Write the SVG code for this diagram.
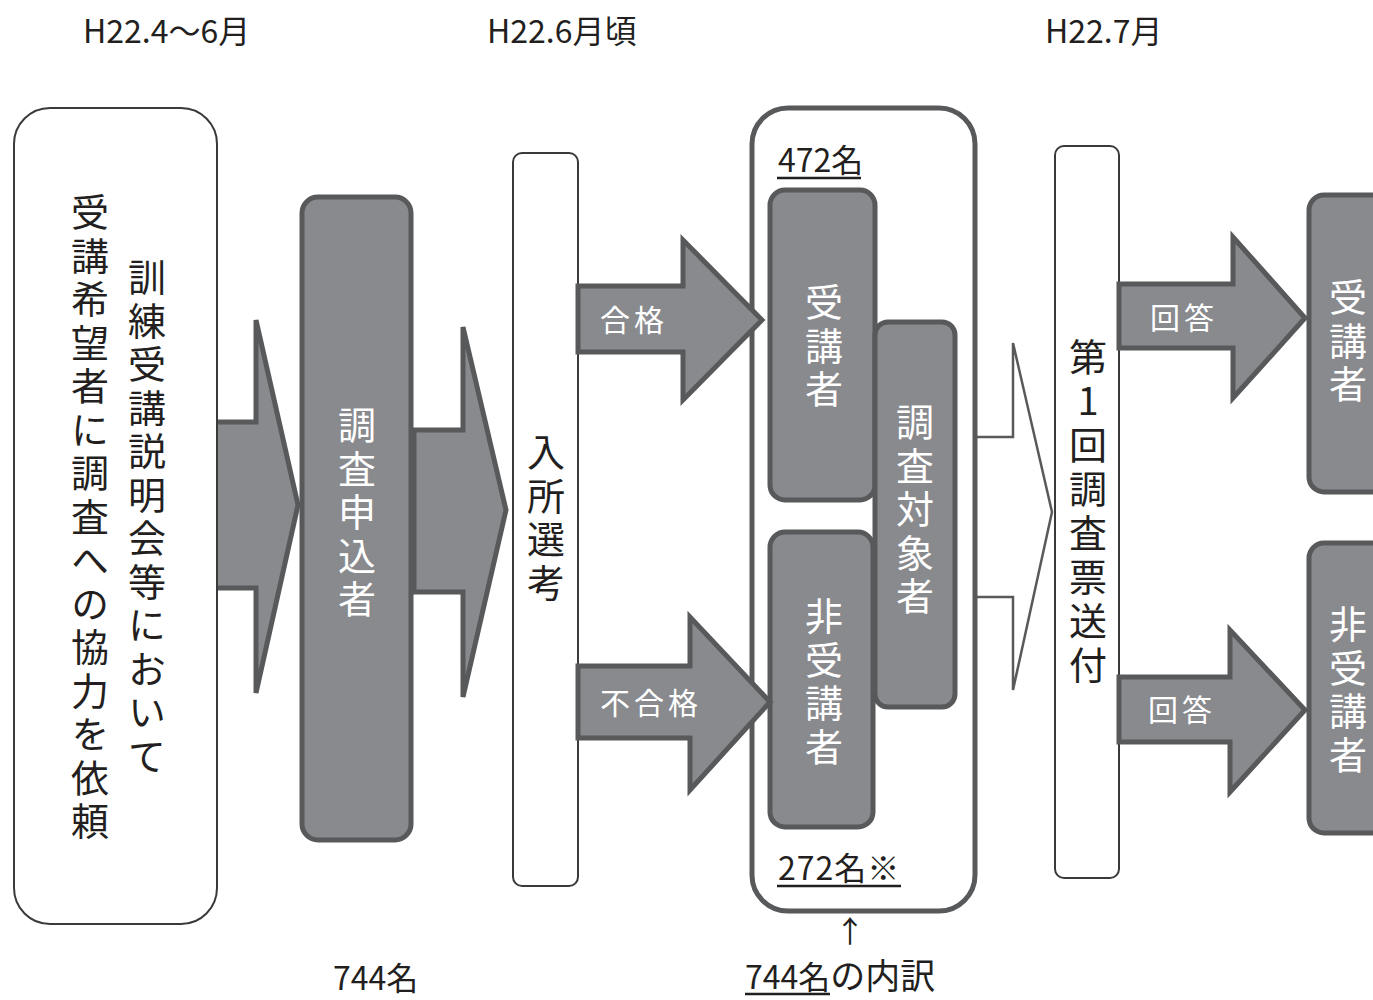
<svg xmlns="http://www.w3.org/2000/svg" width="1373" height="1000" viewBox="0 0 1373 1000">
<style>
text{font-family:"Noto Sans CJK JP","Noto Sans",sans-serif;}
.lbl{font-size:32px;fill:#231f20;}
.v{writing-mode:vertical-rl;text-orientation:upright;font-size:38px;letter-spacing:5.5px;}
.vb{fill:#231f20;}
.vw{fill:#ffffff;}
.gbox{fill:#898a8e;stroke:#58595b;stroke-width:5;}
.wbox{fill:#ffffff;stroke:#3a3a3a;stroke-width:2;}
.obox{fill:#ffffff;stroke:#58595b;stroke-width:5;}
.garrow{fill:#898a8e;stroke:#58595b;stroke-width:5;stroke-linejoin:miter;}
.harrow{fill:#ffffff;stroke:#58595b;stroke-width:2.5;}
.al{font-size:30px;fill:#ffffff;letter-spacing:4px;}
.num{font-size:32px;fill:#231f20;}
.ul{stroke:#231f20;stroke-width:2.5;}
</style>

<g id="labels">
<text class="lbl" x="83" y="43">H22.4～6月</text>
<text class="lbl" x="487" y="43">H22.6月頃</text>
<text class="lbl" x="1045" y="43">H22.7月</text>
</g>

<g id="connectors">
<path class="garrow" d="M205,422 H256 V320 L298,505 L256,693 V588 H205 Z"/>
<path class="garrow" d="M414,430 H463 V327 L506,510 L463,697 V592 H414 Z"/>
<path class="harrow" d="M975,437 H1013 V343 L1052,512 L1013,690 V597 H975"/>
</g>

<g id="node-request">
<rect x="14" y="108" width="203" height="816" rx="36" class="wbox"/>
<text class="v vb" x="147" y="258">訓練受講説明会等において</text>
<text class="v vb" x="90" y="193">受講希望者に調査への協力を依頼</text>
</g>

<g id="node-applicants">
<rect x="302" y="197" width="109" height="643" rx="16" class="gbox"/>
<text class="v vw" x="357" y="406">調査申込者</text>
<text class="num" x="333" y="990">744名</text>
</g>

<g id="node-selection">
<rect x="513" y="153" width="65" height="733" rx="9" class="wbox"/>
<text class="v vb" x="546" y="433">入所選考</text>
</g>

<g id="node-breakdown">
<rect x="752" y="108" width="223" height="803" rx="36" class="obox"/>
<text class="num" x="778" y="172">472名</text>
<line class="ul" x1="777" y1="178" x2="861" y2="178"/>
<rect x="770" y="190" width="105" height="310" rx="15" class="gbox"/>
<text class="v vw" x="824" y="283">受講者</text>
<rect x="875" y="322" width="80" height="385" rx="13" class="gbox"/>
<text class="v vw" x="915" y="403">調査対象者</text>
<rect x="770" y="532" width="103" height="295" rx="15" class="gbox"/>
<text class="v vw" x="824" y="597">非受講者</text>
<text class="num" x="778" y="880" style="letter-spacing:1px">272名※</text>
<line class="ul" x1="777" y1="886" x2="901" y2="886"/>
<text class="num" x="835" y="942" style="font-size:30px">↑</text>
<text class="num" x="745" y="989">744名<tspan style="font-size:35px">の内訳</tspan></text>
<line class="ul" x1="745" y1="994" x2="830" y2="994"/>
</g>

<g id="connectors-pass">
<path class="garrow" d="M578,286 H683 V240 L762,320 L683,400 V352 H578 Z"/>
<text class="al" x="600" y="331">合格</text>
<path class="garrow" d="M578,666 H690 V617 L770,702 L690,790 V738 H578 Z"/>
<text class="al" x="600" y="714">不合格</text>
</g>

<g id="node-survey1">
<rect x="1055" y="146" width="64" height="732" rx="9" class="wbox"/>
<text class="v vb" x="1088" y="338" style="letter-spacing:6px">第1回調査票送付</text>
</g>

<g id="connectors-answer">
<path class="garrow" d="M1119,284 H1233 V237 L1305,318 L1233,398 V348 H1119 Z"/>
<text class="al" x="1150" y="329">回答</text>
<path class="garrow" d="M1119,677 H1230 V630 L1305,710 L1230,792 V742 H1119 Z"/>
<text class="al" x="1148" y="721">回答</text>
</g>

<g id="node-right-attend">
<rect x="1309" y="195" width="110" height="297" rx="15" class="gbox"/>
<text class="v vw" x="1348" y="278">受講者</text>
</g>

<g id="node-right-nonattend">
<rect x="1309" y="543" width="110" height="290" rx="15" class="gbox"/>
<text class="v vw" x="1348" y="605">非受講者</text>
</g>
</svg>
